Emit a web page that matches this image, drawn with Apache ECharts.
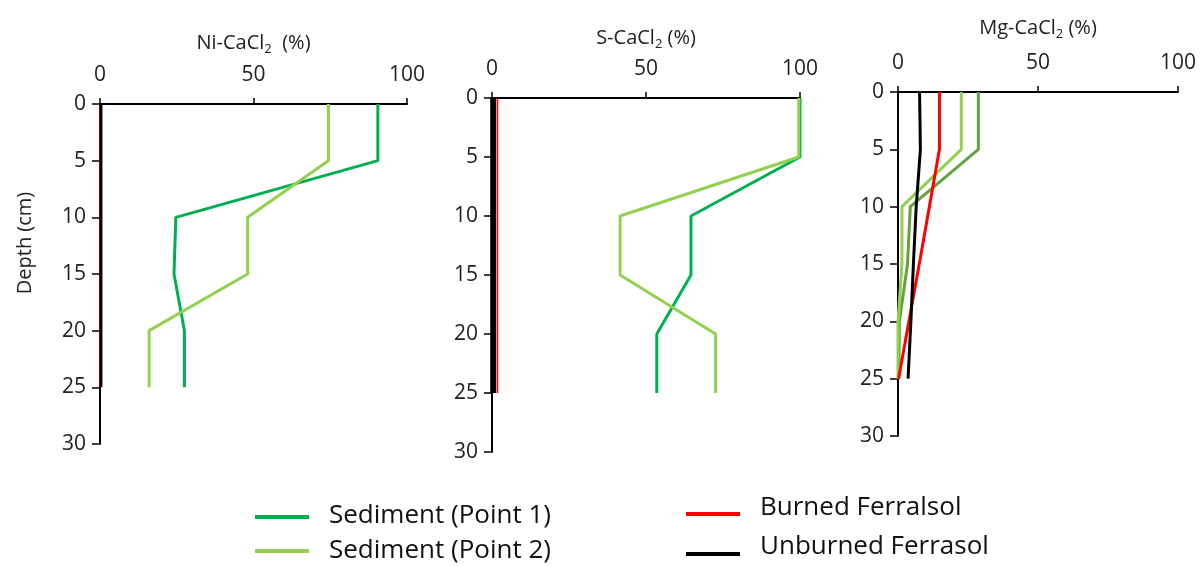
<!DOCTYPE html>
<html>
<head>
<meta charset="utf-8">
<script src="https://cdn.jsdelivr.net/npm/echarts@6/dist/echarts.min.js"></script>
<style>
  html, body { margin: 0; padding: 0; background: #fff; }
  #chart { width: 1200px; height: 566px; }
</style>
</head>
<body>
<div id="chart"></div>
<script>
// depth of each sample (cm)
const depths = [0, 5, 10, 15, 20, 25];

// Ni-CaCl2 (%)
const niPoint1 = [90.5, 90.5, 24.7, 24.1, 27.5, 27.5];
const niPoint2 = [74.4, 74.4, 48.1, 48.1, 16, 16];
const niBurned = [0, 0, 0, 0, 0, 0];
const niUnburned = [0.3, 0.3, 0.3, 0.3, 0.3, 0.3];

// S-CaCl2 (%)
const sPoint1 = [100, 100, 64.6, 64.6, 53.5, 53.5];
const sPoint2 = [99.6, 99.6, 41.6, 41.6, 72.6, 72.6];
const sBurned = [1.8, 1.8, 1.8, 1.8, 1.8, 1.8];
const sUnburned = [0.4, 0.4, 0.4, 0.4, 0.4, 0.4];

// Mg-CaCl2 (%)
const mgPoint1 = [28.7, 28.7, 4.4, 3.4, 0.5, 0.3];
const mgPoint2 = [22.6, 22.6, 1.4, 1.4, 0, 0];
const mgBurned = [14.8, 14.8, 11.2, 7.6, 3.9, 0.2];
const mgUnburned = [7.7, 8, 6.5, 5.5, 4.6, 3.6];

const xTicks = [0, 50, 100];
const seriesNames = ['Sediment (Point 1)', 'Sediment (Point 2)', 'Burned Ferralsol', 'Unburned Ferrasol'];

const FONT = 'Open Sans';
const pair = (vals) => vals.map((v, i) => [v, depths[i]]);

const chart = echarts.init(document.getElementById('chart'));

const grids = [
  { left: 100, top: 104, width: 307, height: 340 },
  { left: 492, top: 98, width: 308, height: 354 },
  { left: 898, top: 92, width: 280, height: 344 },
];

const titles = [
  ['Ni-CaCl', '  (%)', 48],
  ['S-CaCl', ' (%)', 47],
  ['Mg-CaCl', ' (%)', 51],
];

const xAxes = grids.map((g, i) => ({
  gridIndex: i,
  type: 'value',
  position: 'top',
  min: 0,
  max: 100,
  interval: 50,
  name: '{a|' + titles[i][0] + '}{s|2}{a|' + titles[i][1] + '}',
  nameLocation: 'middle',
  nameGap: titles[i][2],
  nameTextStyle: {
    rich: {
      a: { fontFamily: FONT, fontSize: 20, color: '#222' },
      s: { fontFamily: FONT, fontSize: 13, color: '#222', padding: [12, 0, 0, 0] },
    },
  },
  axisLine: { show: true, lineStyle: { color: '#000', width: 2 } },
  axisTick: { show: true, length: 6, lineStyle: { color: '#000', width: 1.5 } },
  axisLabel: {
    fontFamily: FONT, fontSize: 21, color: '#222', margin: 18,
    formatter: (v) => (xTicks.includes(v) ? String(v) : ''),
  },
  splitLine: { show: false },
}));

const yAxes = grids.map((g, i) => ({
  gridIndex: i,
  type: 'value',
  inverse: true,
  min: 0,
  max: 30,
  interval: 5,
  axisLine: { show: true, onZero: false, lineStyle: { color: '#000', width: 2 } },
  axisTick: { show: true, length: 8, lineStyle: { color: '#000', width: 1.5 } },
  axisLabel: { fontFamily: FONT, fontSize: 21, color: '#222', margin: 14 },
  splitLine: { show: false },
}));

const panels = [
  [niPoint1, niPoint2, niBurned, niUnburned],
  [sPoint1, sPoint2, sBurned, sUnburned],
  [mgPoint1, mgPoint2, mgBurned, mgUnburned],
];
const colors = [
  ['#00b050', '#92d050', '#ff0000', '#000000'],
  ['#00b050', '#92d050', '#ff0000', '#000000'],
  ['#63a33f', '#92d050', '#ff0000', '#000000'],
];
const widths = [
  [3, 3, 2, 3],
  [3, 3, 1.5, 6],
  [3, 3, 3, 3],
];
// drawing order per panel: black under red in panel 2, black over red in panel 1
const zs = [
  [2, 2, 2, 3],
  [2, 2, 2, 1],
  [2, 2, 2, 2],
];

const series = [];
panels.forEach((vals, p) => {
  vals.forEach((arr, k) => {
    series.push({
      name: seriesNames[k],
      type: 'line',
      xAxisIndex: p,
      yAxisIndex: p,
      data: pair(arr),
      showSymbol: false,
      symbol: 'none',
      color: colors[p][k],
      lineStyle: { color: colors[p][k], width: widths[p][k] },
      z: zs[p][k],
      animation: false,
    });
  });
});

// raise = how far the label sits above its line sample
const legendItem = (name, left, top, raise) => ({
  orient: 'vertical',
  left: left,
  top: top,
  padding: 0,
  icon: 'rect',
  itemWidth: 54,
  itemHeight: 4,
  selectedMode: false,
  data: [name],
  formatter: (n) => '{t|' + n + '}',
  textStyle: {
    rich: {
      t: {
        fontFamily: FONT, fontSize: 26, lineHeight: 30, color: '#111',
        padding: [0, 0, raise * 2, 15],
      },
    },
  },
});

chart.setOption({
  backgroundColor: '#fff',
  animation: false,
  grid: grids,
  xAxis: xAxes,
  yAxis: yAxes,
  legend: [
    legendItem(seriesNames[0], 255, 503, 1),
    legendItem(seriesNames[1], 255, 538, 0),
    legendItem(seriesNames[2], 686, 495, 6),
    legendItem(seriesNames[3], 686, 534, 7),
  ],
  graphic: [
    {
      type: 'text',
      x: 25,
      y: 243,
      rotation: Math.PI / 2,
      style: {
        text: 'Depth (cm)', fontFamily: FONT, fontSize: 20, fill: '#222',
        align: 'center', verticalAlign: 'middle',
      },
    },
  ],
  series: series,
});
</script>
</body>
</html>
